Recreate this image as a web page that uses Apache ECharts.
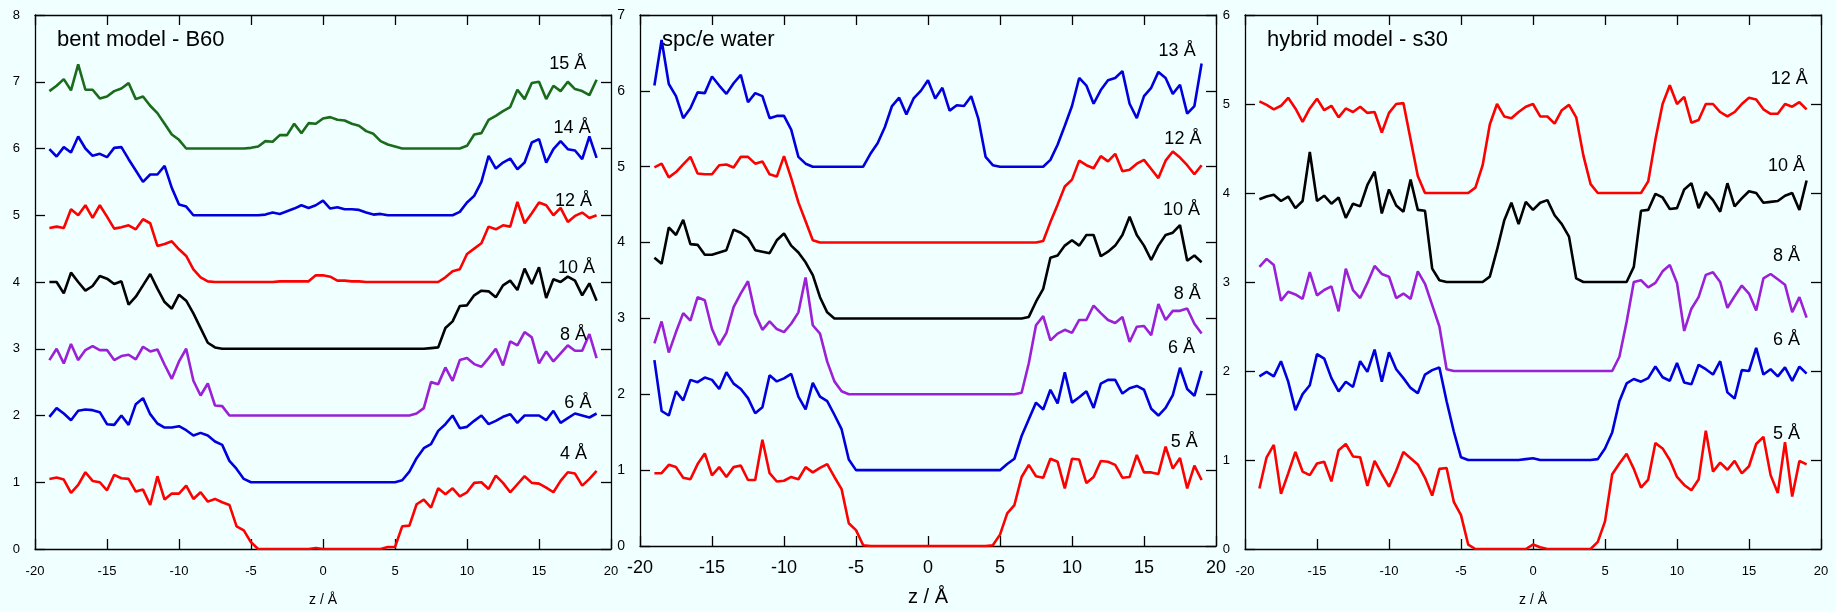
<!DOCTYPE html>
<html>
<head>
<meta charset="utf-8">
<script src="https://cdn.jsdelivr.net/npm/echarts@6/dist/echarts.min.js"></script>
<style>
html,body{margin:0;padding:0;background:#f0ffff;}
#chart{width:1836px;height:612px;}
</style>
</head>
<body>
<div id="chart"></div>
<script>
// z positions (Å)
const z = [-19,-18.5,-18,-17.5,-17,-16.5,-16,-15.5,-15,-14.5,-14,-13.5,-13,-12.5,-12,-11.5,-11,-10.5,-10,-9.5,-9,-8.5,-8,-7.5,-7,-6.5,-6,-5.5,-5,-4.5,-4,-3.5,-3,-2.5,-2,-1.5,-1,-0.5,0,0.5,1,1.5,2,2.5,3,3.5,4,4.5,5,5.5,6,6.5,7,7.5,8,8.5,9,9.5,10,10.5,11,11.5,12,12.5,13,13.5,14,14.5,15,15.5,16,16.5,17,17.5,18,18.5,19];

// Panel 1: bent model - B60 (plotted values, curves offset by 1)
const b60_15 = [6.86,6.94,7.04,6.87,7.26,6.88,6.88,6.75,6.78, 6.86,6.9,6.98,6.74,6.78,6.64,6.53,6.37,6.21, 6.13,6.0,6.0,6.0,6.0,6.0,6.0,6.0,6.0, 6.0,6.01,6.03,6.11,6.1,6.2,6.2,6.37,6.23, 6.38,6.37,6.45,6.47,6.43,6.42,6.37,6.34,6.26, 6.22,6.11,6.06,6.03,6.0,6.0,6.0,6.0,6.0, 6.0,6.0,6.0,6.0,6.04,6.21,6.23,6.43,6.49, 6.56,6.62,6.88,6.74,6.98,7.0,6.74,6.94,6.86, 7.0,6.89,6.86,6.8,7.03];
const b60_14 = [5.99,5.88,6.02,5.94,6.18,6.0,5.89,5.92,5.87, 6.01,6.02,5.84,5.67,5.5,5.61,5.61,5.74,5.41, 5.16,5.13,5.0,5.0,5.0,5.0,5.0,5.0,5.0, 5.0,5.0,5.0,5.01,5.04,5.02,5.06,5.1,5.15, 5.11,5.15,5.22,5.1,5.12,5.09,5.09,5.08,5.04, 5.01,5.02,5.0,5.0,5.0,5.0,5.0,5.0,5.0, 5.0,5.0,5.0,5.05,5.19,5.29,5.5,5.89,5.7, 5.79,5.85,5.69,5.79,6.09,6.14,5.79,5.99,6.11, 5.99,5.97,5.84,6.18,5.86];
const b60_12 = [4.81,4.83,4.81,5.09,5.0,5.15,4.96,5.15,4.98, 4.8,4.82,4.85,4.79,4.94,4.88,4.54,4.57,4.61, 4.49,4.39,4.19,4.07,4.01,4.0,4.0,4.0,4.0, 4.0,4.0,4.0,4.0,4.0,4.01,4.01,4.01,4.01, 4.01,4.1,4.1,4.08,4.02,4.02,4.01,4.01,4.0, 4.0,4.0,4.0,4.0,4.0,4.0,4.0,4.0,4.0, 4.0,4.07,4.16,4.19,4.42,4.5,4.58,4.83,4.79, 4.85,4.83,5.2,4.88,5.03,5.19,5.15,5.0,5.11, 4.9,4.99,5.04,4.96,5.0];
const b60_10 = [4.0,4.0,3.83,4.14,4.0,3.87,3.94,4.09,4.05, 3.97,4.01,3.66,3.78,3.95,4.12,3.9,3.7,3.6, 3.81,3.72,3.53,3.31,3.09,3.02,3.0,3.0,3.0, 3.0,3.0,3.0,3.0,3.0,3.0,3.0,3.0,3.0, 3.0,3.0,3.0,3.0,3.0,3.0,3.0,3.0,3.0, 3.0,3.0,3.0,3.0,3.0,3.0,3.0,3.0,3.01, 3.02,3.31,3.41,3.64,3.65,3.8,3.87,3.86,3.77, 3.95,4.02,3.88,4.2,3.97,4.22,3.76,4.04,4.0, 4.08,4.02,3.8,3.98,3.72];
const b60_8 = [2.83,3.0,2.78,3.07,2.83,2.98,3.04,2.98,2.98, 2.83,2.89,2.91,2.84,3.03,2.96,2.99,2.76,2.55, 2.81,3.0,2.52,2.3,2.48,2.15,2.14,2.0,2.0, 2.0,2.0,2.0,2.0,2.0,2.0,2.0,2.0,2.0, 2.0,2.0,2.0,2.0,2.0,2.0,2.0,2.0,2.0, 2.0,2.0,2.0,2.0,2.0,2.0,2.03,2.11,2.5, 2.47,2.72,2.52,2.83,2.86,2.77,2.73,2.86,3.0, 2.75,3.11,3.05,3.25,3.17,2.78,2.96,2.81,2.93, 3.05,2.97,2.97,3.22,2.86];
const b60_6 = [1.98,2.11,2.03,1.93,2.07,2.09,2.08,2.05,1.87, 1.86,2.0,1.86,2.17,2.26,2.02,1.88,1.82,1.82, 1.84,1.78,1.7,1.74,1.7,1.61,1.56,1.32,1.2, 1.05,1.0,1.0,1.0,1.0,1.0,1.0,1.0,1.0, 1.0,1.0,1.0,1.0,1.0,1.0,1.0,1.0,1.0, 1.0,1.0,1.0,1.0,1.03,1.16,1.36,1.51,1.57, 1.77,1.87,2.0,1.81,1.83,1.92,2.0,1.87,1.92, 1.98,2.02,1.89,2.0,2.0,2.0,1.93,2.07,1.89, 1.96,2.03,2.0,1.97,2.03];
const b60_4 = [1.05,1.07,1.04,0.84,0.96,1.15,1.02,1.0,0.88, 1.11,1.06,1.05,0.86,0.89,0.66,1.09,0.74,0.83, 0.83,0.95,0.75,0.85,0.71,0.75,0.7,0.66,0.34, 0.28,0.1,0.0,0.0,0.0,0.0,0.0,0.0,0.0, 0.0,0.015,0.0,0.0,0.0,0.0,0.0,0.0,0.0, 0.0,0.0,0.03,0.03,0.34,0.35,0.67,0.74,0.62, 0.91,0.82,0.91,0.79,0.85,0.99,1.0,0.9,1.1, 0.99,0.85,0.97,1.09,0.99,0.98,0.92,0.85,1.02, 1.15,1.13,0.95,1.05,1.17];

// Panel 2: spc/e water
const spce_13 = [6.07,6.67,6.09,5.93,5.64,5.77,5.98,5.97,6.19, 6.07,5.96,6.1,6.21,5.85,5.97,5.93,5.64,5.67, 5.67,5.49,5.13,5.04,5.0,5.0,5.0,5.0,5.0, 5.0,5.0,5.0,5.17,5.31,5.52,5.8,5.91,5.69, 5.9,6.0,6.14,5.9,6.04,5.74,5.81,5.8,5.93, 5.63,5.13,5.02,5.0,5.0,5.0,5.0,5.0,5.0, 5.0,5.09,5.29,5.54,5.8,6.17,6.07,5.83,6.01, 6.14,6.17,6.26,5.83,5.64,5.93,6.04,6.25,6.17, 5.96,6.08,5.7,5.8,6.36];
const spce_12 = [4.99,5.04,4.86,4.93,5.03,5.13,4.91,4.9,4.9, 5.02,5.03,4.99,5.13,5.13,5.04,5.07,4.9,4.87, 5.14,4.85,4.53,4.28,4.03,4.0,4.0,4.0,4.0, 4.0,4.0,4.0,4.0,4.0,4.0,4.0,4.0,4.0, 4.0,4.0,4.0,4.0,4.0,4.0,4.0,4.0,4.0, 4.0,4.0,4.0,4.0,4.0,4.0,4.0,4.0,4.0, 4.02,4.27,4.5,4.74,4.83,5.08,5.02,4.98,5.14, 5.07,5.17,4.94,4.96,5.04,5.09,4.97,4.85,5.08, 5.2,5.12,5.02,4.9,5.02];
const spce_10 = [3.8,3.72,4.2,4.1,4.3,3.98,3.97,3.84,3.84, 3.87,3.9,4.17,4.13,4.06,3.9,3.88,3.86,4.03, 4.12,3.96,3.87,3.74,3.57,3.28,3.08,3.0,3.0, 3.0,3.0,3.0,3.0,3.0,3.0,3.0,3.0,3.0, 3.0,3.0,3.0,3.0,3.0,3.0,3.0,3.0,3.0, 3.0,3.0,3.0,3.0,3.0,3.0,3.0,3.02,3.22, 3.39,3.8,3.83,3.96,4.03,3.96,4.1,4.1,3.82, 3.88,3.96,4.1,4.34,4.1,3.96,3.77,3.96,4.1, 4.13,4.23,3.76,3.83,3.74];
const spce_8 = [2.67,2.96,2.55,2.82,3.07,2.97,3.28,3.24,2.86, 2.65,2.81,3.15,3.33,3.49,3.06,2.85,2.96,2.86, 2.82,2.93,3.08,3.54,2.91,2.8,2.43,2.17,2.04, 2.0,2.0,2.0,2.0,2.0,2.0,2.0,2.0,2.0, 2.0,2.0,2.0,2.0,2.0,2.0,2.0,2.0,2.0, 2.0,2.0,2.0,2.0,2.0,2.0,2.02,2.41,2.91, 3.03,2.71,2.8,2.85,2.81,2.98,2.98,3.17,3.07, 2.98,2.94,3.02,2.69,2.89,2.9,2.78,3.19,2.98, 3.1,3.1,3.13,2.93,2.8];
const spce_6 = [2.45,1.78,1.72,2.04,1.92,2.19,2.16,2.22,2.19, 2.07,2.29,2.14,2.07,1.95,1.75,1.83,2.25,2.17, 2.21,2.27,1.97,1.8,2.15,1.97,1.91,1.73,1.54, 1.14,1.0,1.0,1.0,1.0,1.0,1.0,1.0,1.0, 1.0,1.0,1.0,1.0,1.0,1.0,1.0,1.0,1.0, 1.0,1.0,1.0,1.0,1.08,1.15,1.45,1.67,1.89, 1.8,2.06,1.88,2.29,1.89,1.96,2.04,1.82,2.14, 2.19,2.19,2.01,2.08,2.11,2.06,1.81,1.72,1.82, 1.99,2.35,2.07,1.98,2.31];
const spce_5 = [0.96,0.96,1.07,1.04,0.9,0.88,1.08,1.22,0.93, 1.04,0.91,1.04,1.06,0.87,0.87,1.4,0.96,0.85, 0.86,0.91,0.88,1.04,0.97,1.03,1.08,0.91,0.75, 0.3,0.21,0.01,0.0,0.0,0.0,0.0,0.0,0.0, 0.0,0.0,0.0,0.0,0.0,0.0,0.0,0.0,0.0, 0.0,0.0,0.01,0.15,0.43,0.54,0.91,1.07,0.92, 0.9,1.15,1.11,0.76,1.15,1.14,0.83,0.91,1.12, 1.11,1.07,0.9,0.91,1.2,0.97,0.97,0.95,1.31, 1.02,1.16,0.76,1.06,0.87];

// Panel 3: hybrid model - s30
const s30_12 = [5.03,4.99,4.94,4.98,5.07,4.95,4.8,4.95,5.06, 4.93,4.98,4.85,4.95,4.91,4.97,4.9,4.91,4.68, 4.9,5.0,5.01,4.6,4.19,4.0,4.0,4.0,4.0, 4.0,4.0,4.0,4.06,4.31,4.77,5.0,4.86,4.84, 4.91,4.97,5.0,4.86,4.86,4.78,4.93,4.99,4.85, 4.42,4.1,4.0,4.0,4.0,4.0,4.0,4.0,4.0, 4.13,4.6,5.0,5.21,5.0,5.08,4.79,4.82,5.0, 5.0,4.91,4.86,4.91,5.0,5.07,5.05,4.94,4.89, 4.89,5.0,4.97,5.02,4.94];
const s30_10 = [3.93,3.96,3.98,3.91,3.96,3.83,3.91,4.46,3.91, 3.97,3.88,3.95,3.72,3.88,3.85,4.09,4.24,3.77, 4.04,3.86,3.79,4.15,3.81,3.8,3.15,3.02,3.0, 3.0,3.0,3.0,3.0,3.0,3.06,3.36,3.69,3.89, 3.65,3.9,3.81,3.89,3.92,3.75,3.65,3.51,3.04, 3.0,3.0,3.0,3.0,3.0,3.0,3.0,3.17,3.8, 3.81,3.99,3.95,3.82,3.83,4.04,4.11,3.83,4.01, 3.92,3.79,4.11,3.85,3.94,4.02,4.0,3.89,3.9, 3.91,3.97,4.0,3.81,4.14];
const s30_8 = [3.17,3.26,3.19,2.79,2.89,2.86,2.81,3.11,2.85, 2.91,2.95,2.67,3.15,2.91,2.82,2.99,3.18,3.09, 3.06,2.82,2.87,2.81,3.12,2.98,2.74,2.5,2.02, 2.0,2.0,2.0,2.0,2.0,2.0,2.0,2.0,2.0, 2.0,2.0,2.0,2.0,2.0,2.0,2.0,2.0,2.0, 2.0,2.0,2.0,2.0,2.0,2.16,2.55,3.0,3.02, 2.94,2.99,3.12,3.19,2.99,2.45,2.7,2.83,3.08, 3.11,3.0,2.71,2.84,2.96,2.87,2.68,3.04,3.09, 3.03,2.97,2.66,2.83,2.6];
const s30_6 = [1.94,1.99,1.94,2.11,1.88,1.56,1.74,1.84,2.19, 2.14,1.92,1.77,1.88,1.82,2.11,1.99,2.24,1.88, 2.21,2.02,1.92,1.81,1.75,1.96,2.01,2.04,1.66, 1.32,1.03,1.0,1.0,1.0,1.0,1.0,1.0,1.0, 1.0,1.01,1.02,1.0,1.0,1.0,1.0,1.0,1.0, 1.0,1.0,1.01,1.13,1.31,1.66,1.86,1.91,1.88, 1.92,2.05,1.93,1.89,2.09,1.87,1.85,2.07,2.02, 1.96,2.11,1.76,1.69,2.01,2.0,2.26,1.96,2.02, 1.94,2.04,1.89,2.05,1.97];
const s30_5 = [0.68,1.03,1.17,0.62,0.85,1.09,0.87,0.83,0.96, 0.98,0.76,1.11,1.18,1.04,1.03,0.71,0.99,0.84, 0.7,0.88,1.09,1.02,0.95,0.8,0.6,0.9,0.91, 0.53,0.38,0.05,0.0,0.0,0.0,0.0,0.0,0.0, 0.0,0.0,0.05,0.02,0.0,0.0,0.0,0.0,0.0, 0.0,0.0,0.08,0.31,0.84,0.96,1.07,0.9,0.69, 0.78,1.19,1.13,1.0,0.81,0.72,0.66,0.78,1.33, 0.87,0.97,0.89,0.99,0.85,0.93,1.18,1.26,0.83, 0.63,1.2,0.59,0.99,0.95];

// panel titles and curve labels
const panelTitles = ['bent model - B60', 'spc/e water', 'hybrid model - s30'];
const yMax = [8, 7, 6];
const xTicks = [-20, 20, 5];
const p1Names = ['15 Å','14 Å','12 Å','10 Å','8 Å','6 Å','4 Å'];
const p1LabelX = [17.0,17.3,17.4,17.6,17.4,17.7,17.4];
const p1LabelY = [7.27,6.31,5.22,4.21,3.21,2.18,1.43];
const p2Names = ['13 Å','12 Å','10 Å','8 Å','6 Å','5 Å'];
const p2LabelX = [17.3,17.7,17.6,18.0,17.6,17.8];
const p2LabelY = [6.52,5.37,4.43,3.32,2.61,1.37];
const p3Names = ['12 Å','10 Å','8 Å','6 Å','5 Å'];
const p3LabelX = [17.8,17.6,17.6,17.6,17.6];
const p3LabelY = [5.28,4.3,3.29,2.35,1.29];

const GREEN = '#1a6b1a', BLUE = '#0000dd', RED = '#ff0000', BLACK = '#000000', PURPLE = '#9b20d6';

const panels = [
  {data:[b60_15,b60_14,b60_12,b60_10,b60_8,b60_6,b60_4], colors:[GREEN,BLUE,RED,BLACK,PURPLE,BLUE,RED], names:p1Names, lx:p1LabelX, ly:p1LabelY},
  {data:[spce_13,spce_12,spce_10,spce_8,spce_6,spce_5], colors:[BLUE,RED,BLACK,PURPLE,BLUE,RED], names:p2Names, lx:p2LabelX, ly:p2LabelY},
  {data:[s30_12,s30_10,s30_8,s30_6,s30_5], colors:[RED,BLACK,PURPLE,BLUE,RED], names:p3Names, lx:p3LabelX, ly:p3LabelY}
];

const FONT = 'Liberation Sans, Arial, sans-serif';
const gridLefts = [35, 640, 1245];
const xLabelSize = [13, 18, 13];
const xLabelMargin = [16, 13, 16];
const xNameSize = [14, 20, 14];
const xNameGap = [44, 41, 44];
const yLabelSize = [13, 14, 13];

function tickStyle() { return {show: true, inside: true, length: 10, lineStyle: {color: '#000', width: 1.3}}; }
function lineStyleAx() { return {show: true, onZero: false, lineStyle: {color: '#000', width: 1.3}}; }

const grids = [], xAxes = [], yAxes = [], series = [], titles = [];
gridLefts.forEach((l, i) => {
  grids.push({left: l, top: 15, width: 576, height: 536, containLabel: false});
  xAxes.push({type: 'value', gridIndex: i, min: xTicks[0], max: xTicks[1], interval: xTicks[2], position: 'bottom',
    axisLine: lineStyleAx(), axisTick: tickStyle(),
    axisLabel: {color: '#000', fontSize: xLabelSize[i], fontFamily: FONT, margin: xLabelMargin[i]},
    splitLine: {show: false}, name: 'z / Å', nameLocation: 'middle', nameGap: xNameGap[i],
    nameTextStyle: {color: '#000', fontSize: xNameSize[i], fontFamily: FONT}});
  xAxes.push({type: 'value', gridIndex: i, min: xTicks[0], max: xTicks[1], interval: xTicks[2], position: 'top',
    axisLine: lineStyleAx(), axisTick: tickStyle(),
    axisLabel: {show: false}, splitLine: {show: false}});
  yAxes.push({type: 'value', gridIndex: i, min: 0, max: yMax[i], interval: 1, position: 'left',
    axisLine: lineStyleAx(), axisTick: tickStyle(),
    axisLabel: {color: '#000', fontSize: yLabelSize[i], fontFamily: FONT, margin: 15},
    splitLine: {show: false}});
  yAxes.push({type: 'value', gridIndex: i, min: 0, max: yMax[i], interval: 1, position: 'right',
    axisLine: lineStyleAx(), axisTick: tickStyle(),
    axisLabel: {show: false}, splitLine: {show: false}});
  titles.push({text: panelTitles[i], left: l + 22, top: 29, padding: 0,
    textStyle: {fontSize: 22, fontWeight: 'normal', color: '#000', fontFamily: FONT}});
  const p = panels[i];
  p.data.forEach((arr, k) => {
    series.push({type: 'line', xAxisIndex: 2 * i, yAxisIndex: 2 * i,
      data: arr.map((v, j) => [z[j], v]), showSymbol: false, symbol: 'none', smooth: false,
      lineStyle: {color: p.colors[k], width: 2.6}, itemStyle: {color: p.colors[k]},
      animation: false, silent: true,
      markPoint: {symbol: 'rect', symbolSize: 1, itemStyle: {color: 'rgba(0,0,0,0)'}, animation: false,
        label: {show: true, position: 'inside', formatter: '{b}', color: '#000', fontSize: 18, fontFamily: FONT},
        data: [{name: p.names[k], coord: [p.lx[k], p.ly[k]]}]}
    });
  });
});

const chart = echarts.init(document.getElementById('chart'), null, {renderer: 'canvas'});
chart.setOption({
  backgroundColor: '#f0ffff',
  animation: false,
  title: titles,
  grid: grids,
  xAxis: xAxes,
  yAxis: yAxes,
  series: series
});
</script>
</body>
</html>
